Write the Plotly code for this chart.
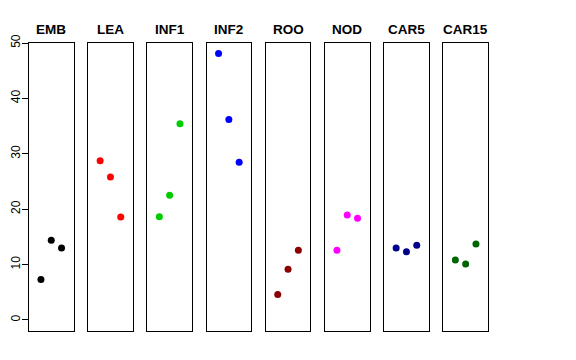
import plotly.graph_objects as go

groups = ["EMB", "LEA", "INF1", "INF2", "ROO", "NOD", "CAR5", "CAR15"]
x_pos = [1, 2, 3]
values = {
    "EMB": [7.3, 14.4, 13.0],
    "LEA": [28.75, 25.8, 18.6],
    "INF1": [18.65, 22.5, 35.4],
    "INF2": [48.1, 36.2, 28.45],
    "ROO": [4.57, 9.15, 12.6],
    "NOD": [12.6, 18.95, 18.35],
    "CAR5": [13.0, 12.3, 13.5],
    "CAR15": [10.8, 10.1, 13.7],
}
colors = ["#000000", "#FF0000", "#00CD00", "#0000FF", "#8B0000", "#FF00FF", "#00008B", "#006400"]
y_ticks = [0, 10, 20, 30, 40, 50]

OFF = 8  # page body margin
W, H = 576 - OFF, 360 - OFF
left0, pw, step = 29 - OFF, 44.5, 59.2
top, bottom = 43 - OFF, 331 - OFF
title_y = 29 - OFF

fig = go.Figure()
font = "Liberation Sans, Arial, Helvetica, sans-serif"
layout = dict(
    width=W, height=H, margin=dict(l=0, r=0, t=0, b=0, pad=0, autoexpand=False),
    plot_bgcolor="white", paper_bgcolor="white", showlegend=False,
    font=dict(family=font, color="black"),
)
annotations = []
for i, g in enumerate(groups):
    k = "" if i == 0 else str(i + 1)
    x0 = (left0 + i * step) / W
    x1 = (left0 + i * step + pw) / W
    fig.add_trace(go.Scatter(
        x=x_pos, y=values[g], mode="markers",
        marker=dict(color=colors[i], size=7, line=dict(width=0)),
        xaxis="x" + k, yaxis="y" + k, hoverinfo="skip",
    ))
    layout["xaxis" + k] = dict(
        domain=[x0, x1], range=[-0.16, 4.16], showgrid=False, zeroline=False,
        showticklabels=False, ticks="", showline=True, mirror=True,
        linecolor="black", linewidth=1, anchor="y" + k, fixedrange=True,
        automargin=False,
    )
    yax = dict(
        domain=[1 - bottom / H, 1 - top / H], range=[-2.0, 50.0],
        showgrid=False, zeroline=False, showline=True, mirror=True,
        linecolor="black", linewidth=1, anchor="x" + k, fixedrange=True,
        automargin=False,
    )
    if i == 0:
        yax.update(tickvals=y_ticks, ticktext=[str(v) for v in y_ticks],
                   ticks="outside", ticklen=6, tickcolor="black", tickwidth=1,
                   tickangle=-90, tickfont=dict(size=12, family=font),
                   ticklabelstandoff=-3)
    else:
        yax.update(showticklabels=False, ticks="")
    layout["yaxis" + k] = yax
    annotations.append(dict(
        text="<b>" + g + "</b>", x=0.5, xref="x" + k + " domain",
        y=1 - title_y / H, yref="paper", showarrow=False,
        font=dict(size=13.5, family=font, color="black"),
        xanchor="center", yanchor="middle",
    ))
layout["annotations"] = annotations
fig.update_layout(**layout)
fig.write_html("out.html")
